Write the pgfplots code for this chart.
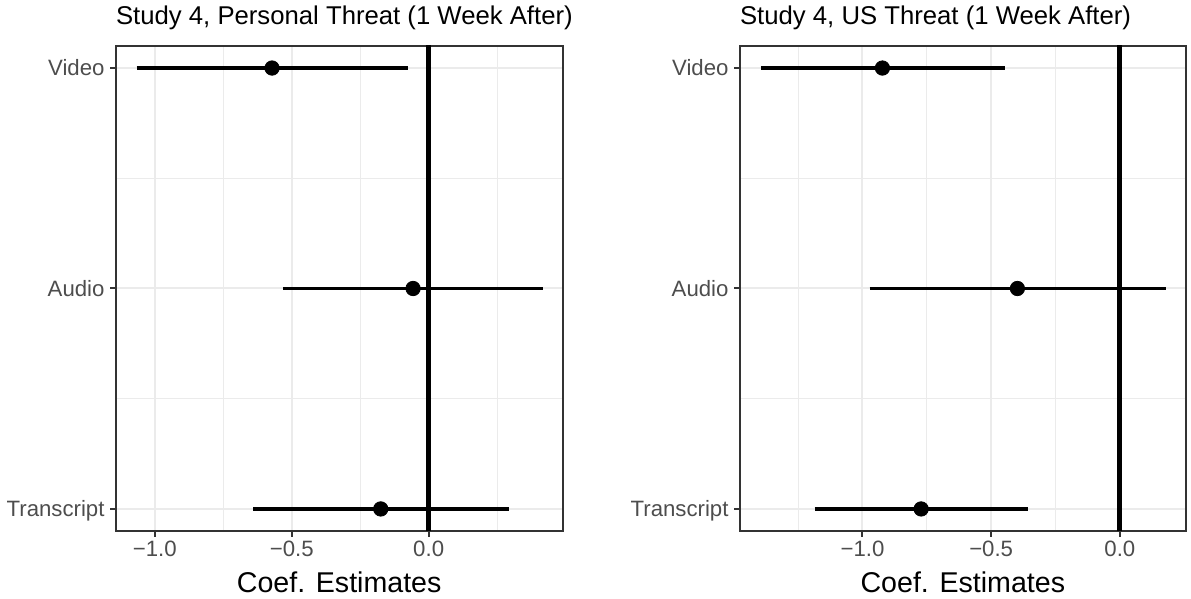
\documentclass[border=0pt]{standalone}
\usepackage{fontspec}
\setmainfont{Liberation Sans}
\usepackage{pgfplots}
\pgfplotsset{compat=1.18}
\definecolor{grey30}{HTML}{4D4D4D}
\definecolor{grey20}{HTML}{333333}
\definecolor{grey92}{HTML}{EBEBEB}

\pgfplotsset{
  coefstyle/.style={
    scale only axis, height=242.5pt,
    ymin=0.9, ymax=3.1,
    ytick={1,2,3}, yticklabels={Transcript,Audio,Video},
    minor ytick={1.5,2.5},
    grid=both,
    major grid style={grey92, line width=1.0pt},
    minor grid style={grey92, line width=0.5pt},
    axis line style={grey20, line width=1pt},
    tick align=outside,
    major tick length=2.8pt,
    minor tick length=0pt,
    tick style={grey20, line width=1pt},
    xtick pos=left, ytick pos=left,
    xtick={-1,-0.5,0}, xticklabels={−1.0,−0.5,0.0},
    xticklabel style={font=\fontsize{11.1}{13}\selectfont, text=grey30, anchor=base, yshift=-10.2pt, inner sep=0pt},
    yticklabel style={font=\fontsize{11.1}{13}\selectfont, text=grey30, anchor=base east, xshift=-2.6pt, yshift=-3.97pt, inner sep=0pt},
    title style={at={(axis description cs:0,1)}, anchor=base west, yshift=4.5pt, inner sep=0pt, font=\fontsize{12.85}{15}\selectfont},
    xlabel style={at={(axis description cs:0.5,0)}, anchor=base, yshift=-31pt, inner sep=0pt, font=\fontsize{14.3}{17}\selectfont},
    xlabel={Coef. Estimates},
  }
}

\begin{document}
\begin{tikzpicture}
\path[use as bounding box] (0,0) rectangle (595.5pt,299.5pt);

\begin{axis}[coefstyle,
  at={(57.85pt,34pt)}, anchor=south west,
  width=223.5pt,
  xmin=-1.143, xmax=0.4895,
  minor xtick={-0.75,-0.25,0.25},
  title={Study 4, Personal Threat (1 Week After)}]
\addplot[black, line width=1.6pt] coordinates {(-1.067,3) (-0.077,3)};
\addplot[black, line width=1.6pt] coordinates {(-0.531,2) (0.418,2)};
\addplot[black, line width=1.6pt] coordinates {(-0.641,1) (0.295,1)};
\addplot[only marks, mark=*, mark size=3.6pt, black] coordinates {(-0.572,3) (-0.057,2) (-0.175,1)};
\addplot[black, line width=2.6pt] coordinates {(0,0.8) (0,3.2)};
\end{axis}

\begin{axis}[coefstyle,
  at={(369.85pt,34pt)}, anchor=south west,
  width=223.15pt,
  xmin=-1.477, xmax=0.257,
  minor xtick={-1.25,-0.75,-0.25},
  title={Study 4, US Threat (1 Week After)}]
\addplot[black, line width=1.6pt] coordinates {(-1.395,3) (-0.447,3)};
\addplot[black, line width=1.6pt] coordinates {(-0.972,2) (0.181,2)};
\addplot[black, line width=1.6pt] coordinates {(-1.186,1) (-0.358,1)};
\addplot[only marks, mark=*, mark size=3.6pt, black] coordinates {(-0.9225,3) (-0.398,2) (-0.772,1)};
\addplot[black, line width=2.6pt] coordinates {(0,0.8) (0,3.2)};
\end{axis}
\end{tikzpicture}
\end{document}
